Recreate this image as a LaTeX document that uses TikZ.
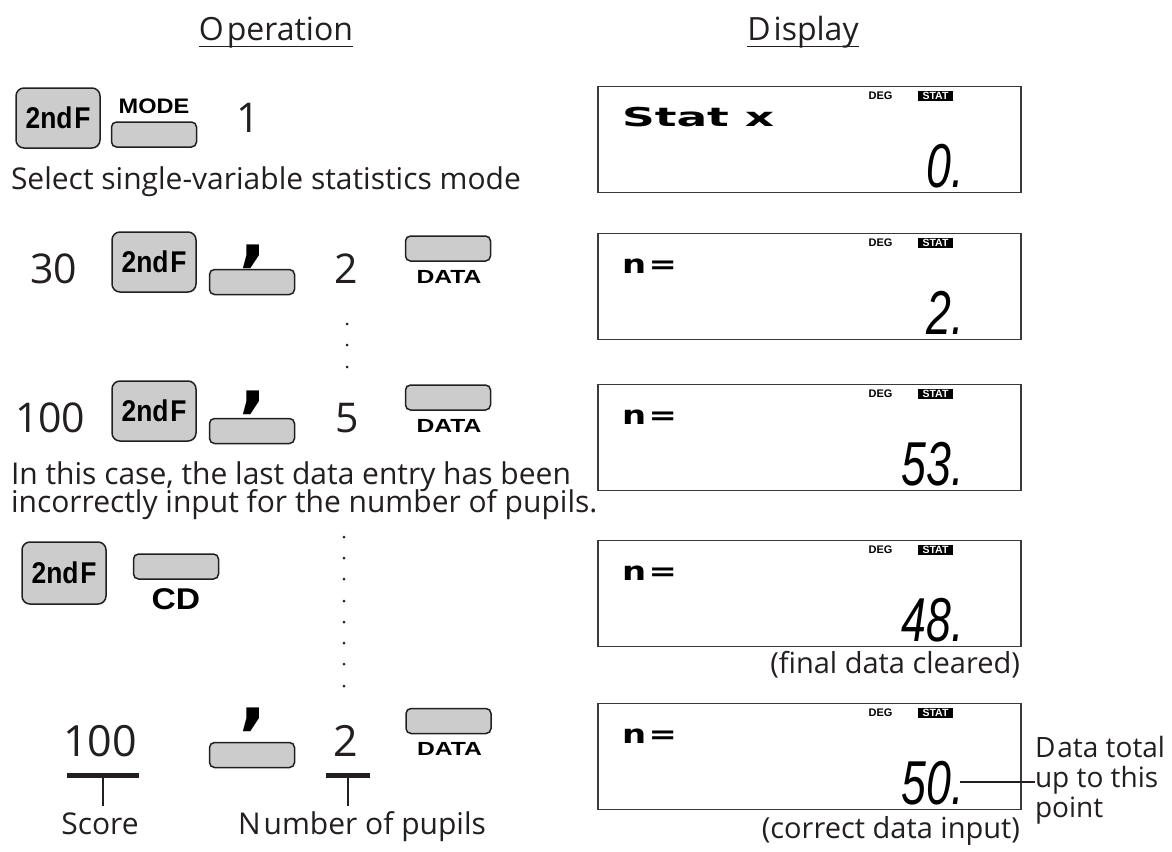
\documentclass[tikz,border=0pt]{standalone}
\usepackage{fontspec}
\usepackage{graphicx}
\setmainfont{Open Sans}
\newfontfamily\keyfont{Liberation Sans}
\newfontfamily\lcdfont{DejaVu Sans}
\newfontfamily\segfont{Liberation Sans}
\usetikzlibrary{calc}
\definecolor{ink}{HTML}{231F20}
\definecolor{keygray}{HTML}{CCCCCC}
\definecolor{boxline}{HTML}{3A3A3A}
\tikzset{
  every node/.style={inner sep=0pt, outer sep=0pt, text=ink},
  bigkey/.style={draw=ink, fill=keygray, line width=1.5pt, rounded corners=8pt, minimum width=84pt, minimum height=60pt},
  flatkey/.style={draw=ink, fill=keygray, line width=1.5pt, rounded corners=5pt, minimum width=85pt, minimum height=25pt},
  twondf/.style={font=\keyfont\bfseries\fontsize{30}{30}\selectfont, text=black},
  keylbl/.style={font=\keyfont\bfseries\fontsize{19}{19}\selectfont, text=black},
  commaglyph/.style={font=\lcdfont\bfseries\fontsize{72}{72}\selectfont, text=black},
  num/.style={font=\fontsize{41}{41}\selectfont},
  txt/.style={font=\fontsize{30}{26}\selectfont},
  rtxt/.style={font=\fontsize{29}{29}\selectfont},
  ntxt/.style={font=\fontsize{28}{28}\selectfont},
  hdr/.style={font=\fontsize{32}{32}\selectfont},
  uline/.style={line width=1.5pt, draw=ink},
  lcd/.style={draw=boxline, line width=1.3pt, minimum width=423pt, minimum height=106pt},
  degl/.style={font=\keyfont\bfseries\fontsize{11}{11}\selectfont, text=black},
  statl/.style={fill=black, minimum width=35pt, minimum height=10pt, font=\keyfont\bfseries\fontsize{10.5}{10.5}\selectfont, text=white},
  lcdtop/.style={font=\lcdfont\bfseries\fontsize{26}{26}\selectfont, text=black},
  segnum/.style={font=\segfont\itshape\fontsize{62}{62}\selectfont, text=black},
  pdot/.style={circle, fill=ink, minimum size=3pt},
  barnode/.style={fill=ink, minimum height=5pt},
  stem/.style={line width=1.6pt, draw=ink},
  conn/.style={line width=1.3pt, draw=ink}
}
\newcommand\twondftext{\scalebox{0.88}[1]{2nd\kern2pt F}}
\newcommand\datatext{\scalebox{1.3}[1]{DATA}}
\newcommand\lcdcontent[3]{%
  \node[degl] (#1-deg) at ($(#1.north west)+(282.5,9)$) {DEG};
  \node[statl] (#1-stat) at ($(#1.north west)+(337.5,9)$) {STAT};
  \node[lcdtop, anchor=base west] (#1-top) at ($(#1.north west)+(24,40)$) {#2};
  \node[segnum, anchor=base east] (#1-num) at ($(#1.north west)+(366,101)$) {\scalebox{0.72}[1]{#3}};
}
\begin{document}
\begin{tikzpicture}[x=1pt, y=-1pt]
\fill[white] (0,0) rectangle (1172,851);
\useasboundingbox (0,0) rectangle (1172,851);

% headers
\node[hdr, anchor=base] (op) at (276,41) {O\kern3pt peration};
\draw[uline] ($(op.base west)+(0,5.5)$) -- ($(op.base east)+(0,5.5)$);
\node[hdr, anchor=base] (disp) at (803,41) {D\kern3pt isplay};
\draw[uline] ($(disp.base west)+(0,5.5)$) -- ($(disp.base east)+(0,5.5)$);

% row 1
\node[bigkey] (k1) at (58,118) {};
\node[twondf] (k1t) at (k1) {\twondftext};
\node[flatkey] (mode) at (154,134.5) {};
\node[keylbl, font=\keyfont\bfseries\fontsize{21}{21}\selectfont] (model) at (154,106) {\scalebox{1.12}[1]{MODE}};
\node[num, anchor=base] (one) at (248,132) {1};
\node[txt, anchor=base west] (sel) at (11,189) {Select single-variable statistics mode};

% row 2
\node[num, anchor=base west] (n30) at (30,283) {30};
\node[bigkey] (k2) at (154,262) {};
\node[twondf] (k2t) at (k2) {\twondftext};
\node[flatkey] (c2) at (252,282) {};
\node[commaglyph] (c2g) at (253,257) {,};
\node[num, anchor=base] (two1) at (346,283) {2};
\node[flatkey] (dat2) at (448,248.5) {};
\node[keylbl] (dat2l) at (449,276.5) {\datatext};

\node[pdot] (da1) at (347,324) {};
\node[pdot] (da2) at (347,345) {};
\node[pdot] (da3) at (347,367) {};

% row 3
\node[num, anchor=base west] (n100a) at (15,432) {100};
\node[bigkey] (k3) at (154,411) {};
\node[twondf] (k3t) at (k3) {\twondftext};
\node[flatkey] (c3) at (252,431) {};
\node[commaglyph] (c3g) at (253,403) {,};
\node[num, anchor=base] (five) at (347,432) {5};
\node[flatkey] (dat3) at (448,397.5) {};
\node[keylbl] (dat3l) at (449,425.5) {\datatext};

\node[txt, anchor=base west] (case1) at (11,484) {In this case, the last data entry has been};
\node[txt, anchor=base west] (case2) at (11,512) {incorrectly input for the number of pupils.};

% row 4
\node[bigkey, minimum height=62pt] (k4) at (64,573) {};
\node[twondf] (k4t) at (k4) {\twondftext};
\node[flatkey] (cd) at (176,566.5) {};
\node[keylbl, font=\keyfont\bfseries\fontsize{30}{30}\selectfont] (cdl) at (176,599) {\scalebox{1.12}[1]{CD}};

\foreach \i/\yy in {1/537,2/558,3/579,4/601,5/622,6/643,7/664,8/686}{
  \node[pdot] (db\i) at (344,\yy) {};
}

% row 5
\node[num, font=\fontsize{43}{43}\selectfont, anchor=base] (n100b) at (100,756) {100};
\node[flatkey] (c5) at (252,755) {};
\node[commaglyph] (c5g) at (253,720) {,};
\node[num, font=\fontsize{43}{43}\selectfont, anchor=base] (two2) at (346,756) {2};
\node[flatkey] (dat5) at (448.5,721) {};
\node[keylbl] (dat5l) at (449.5,748.5) {\datatext};

\node[barnode, minimum width=72pt] (bar1) at (103,775.5) {};
\node[barnode, minimum width=44pt] (bar2) at (348,775.5) {};
\node[txt, anchor=base] (score) at (100,834) {Score};
\node[txt, anchor=base] (pupils) at (362,834) {N\kern3pt umber of pupils};
\coordinate (s1) at (bar1.south |- 0,806);
\coordinate (s2) at (bar2.south |- 0,806);
\draw[stem] (bar1.south) -- (s1);
\draw[stem] (bar2.south) -- (s2);

% displays
\node[lcd] (d1) at (809.5,139.5) {};
\node[lcd] (d2) at (809.5,286.5) {};
\node[lcd] (d3) at (809.5,437.5) {};
\node[lcd] (d4) at (809.5,593.5) {};
\node[lcd] (d5) at (809.5,756.5) {};
\lcdcontent{d1}{\scalebox{1.75}[1]{Stat x}}{0.}
\lcdcontent{d2}{\scalebox{1.3}[1]{n\kern2pt=}}{2.}
\lcdcontent{d3}{\scalebox{1.3}[1]{n\kern2pt=}}{53.}
\lcdcontent{d4}{\scalebox{1.3}[1]{n\kern2pt=}}{48.}
\lcdcontent{d5}{\scalebox{1.3}[1]{n\kern2pt=}}{50.}

\node[rtxt, anchor=base east] (fin) at (1020,673) {(final data cleared)};
\node[rtxt, anchor=base east] (cor) at (1020,838) {(correct data input)};
\node[ntxt, anchor=base west] (dt1) at (1035,757) {D\kern2pt ata total};
\node[ntxt, anchor=base west] (dt2) at (1035,787) {up to this};
\node[ntxt, anchor=base west] (dt3) at (1035,817) {point};
\coordinate (p50) at (960,782);
\draw[conn] (p50) -- (p50 -| dt2.west);
\end{tikzpicture}
\end{document}
